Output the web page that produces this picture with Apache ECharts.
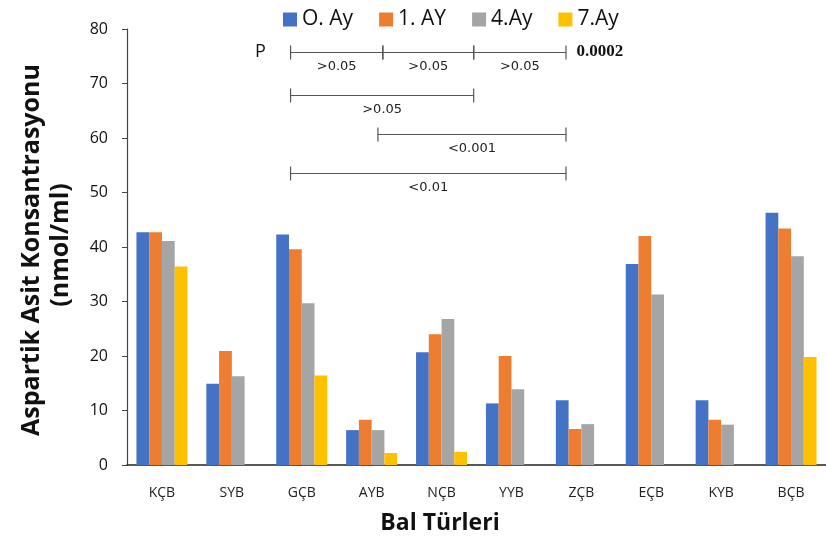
<!DOCTYPE html>
<html>
<head>
<meta charset="utf-8">
<script src="https://cdn.jsdelivr.net/npm/echarts@6/dist/echarts.min.js"></script>
<style>
  html, body { margin: 0; padding: 0; background: #fff; }
  #chart { width: 826px; height: 543px; }
</style>
</head>
<body>
<div id="chart"></div>
<script>
// Honey types on the category axis
const categories = ['KÇB', 'SYB', 'GÇB', 'AYB', 'NÇB', 'YYB', 'ZÇB', 'EÇB', 'KYB', 'BÇB'];

// Aspartic acid concentration (nmol/ml) per storage month
const seriesNames = ['O. Ay', '1. AY', '4.Ay', '7.Ay'];
const month0 = [42.7, 14.9, 42.3, 6.4, 20.7, 11.3, 11.9, 36.9, 11.9, 46.3];
const month1 = [42.7, 20.9, 39.6, 8.3, 24.0, 20.0, 6.6, 42.0, 8.3, 43.4];
const month4 = [41.1, 16.3, 29.7, 6.4, 26.8, 13.9, 7.5, 31.3, 7.4, 38.3];
const month7 = [36.4, null, 16.4, 2.2, 2.4, null, null, null, null, 19.8];

// Y axis range and tick step
const yMin = 0, yMax = 80, yStep = 10;

// Significance brackets: [start (category units), end (category units), level, p-value text]
const brackets = [
  [1.84, 3.16, 75.8, '>0.05'],
  [3.16, 4.46, 75.8, '>0.05'],
  [4.46, 5.78, 75.8, '>0.05'],
  [1.84, 4.46, 67.9, '>0.05'],
  [3.09, 5.78, 60.7, '<0.001'],
  [1.84, 5.78, 53.6, '<0.01']
];

// Free-standing annotation texts: [x (category units), level, text]
const notes = [
  [1.41, 75.8, 'P'],
  [5.93, 75.8, '0.0002']
];

const colors = ['#4472C4', '#ED7D31', '#A5A5A5', '#FFC000'];
const values = [month0, month1, month4, month7];

const chart = echarts.init(document.getElementById('chart'), null, { renderer: 'canvas' });

const barSeries = seriesNames.map((name, i) => ({
  name: name,
  type: 'bar',
  xAxisIndex: 0,
  yAxisIndex: 0,
  barWidth: 12.75,
  barGap: '0%',
  itemStyle: { color: colors[i] },
  data: values[i]
}));

const bracketSeries = {
  type: 'custom',
  xAxisIndex: 1,
  yAxisIndex: 0,
  silent: true,
  clip: false,
  encode: { x: [0, 1], y: 2 },
  data: brackets,
  renderItem: function (params, api) {
    const a = api.coord([api.value(0), api.value(2)]);
    const b = api.coord([api.value(1), api.value(2)]);
    const y = Math.round(a[1]) + 0.5;
    const stroke = { stroke: '#555', lineWidth: 1.2 };
    return {
      type: 'group',
      children: [
        { type: 'line', shape: { x1: a[0], y1: y, x2: b[0], y2: y }, style: stroke },
        { type: 'line', shape: { x1: a[0], y1: y - 7, x2: a[0], y2: y + 7 }, style: stroke },
        { type: 'line', shape: { x1: b[0], y1: y - 7, x2: b[0], y2: y + 7 }, style: stroke },
        {
          type: 'text',
          style: {
            text: brackets[params.dataIndex][3],
            x: (a[0] + b[0]) / 2,
            y: y + 14,
            align: 'center',
            verticalAlign: 'middle',
            fontFamily: 'DejaVu Sans',
            fontSize: 13,
            fill: '#222'
          }
        }
      ]
    };
  }
};

const noteSeries = {
  type: 'custom',
  xAxisIndex: 1,
  yAxisIndex: 0,
  silent: true,
  clip: false,
  encode: { x: 0, y: 1 },
  data: notes,
  renderItem: function (params, api) {
    const p = api.coord([api.value(0), api.value(1)]);
    const isP = params.dataIndex === 0;
    return {
      type: 'text',
      style: {
        text: notes[params.dataIndex][2],
        x: p[0],
        y: p[1],
        align: isP ? 'center' : 'left',
        verticalAlign: 'middle',
        fontFamily: isP ? 'Open Sans' : 'Liberation Serif',
        fontWeight: isP ? 'normal' : 'bold',
        fontSize: isP ? 18 : 17,
        fill: '#111'
      }
    };
  }
};

chart.setOption({
  animation: false,
  backgroundColor: '#ffffff',
  color: colors,
  legend: {
    data: seriesNames,
    left: 278,
    top: 4,
    itemWidth: 14,
    itemHeight: 14,
    itemGap: 26,
    icon: 'rect',
    textStyle: { fontFamily: 'Open Sans', fontSize: 21, color: '#111' }
  },
  grid: { left: 127, top: 29, width: 705, height: 436, containLabel: false },
  xAxis: [
    {
      type: 'category',
      data: categories,
      axisLine: { lineStyle: { color: '#222', width: 1.5 } },
      axisTick: { show: false },
      axisLabel: { margin: 21, fontFamily: 'Open Sans', fontSize: 14, color: '#222' }
    },
    { type: 'value', min: -0.5, max: 9.5, show: false }
  ],
  yAxis: {
    type: 'value',
    min: yMin,
    max: yMax,
    interval: yStep,
    splitLine: { show: false },
    axisLine: { show: true, onZero: false, lineStyle: { color: '#444', width: 1.2 } },
    axisTick: { show: true, length: 5, lineStyle: { color: '#444' } },
    axisLabel: { margin: 19, fontFamily: 'Open Sans', fontSize: 16, color: '#111' }
  },
  graphic: [
    {
      type: 'text',
      x: 32, y: 250, rotation: Math.PI / 2,
      style: {
        text: 'Aspartik Asit Konsantrasyonu',
        align: 'center', verticalAlign: 'middle',
        fontFamily: 'Open Sans', fontWeight: 'bold', fontSize: 25, fill: '#111'
      }
    },
    {
      type: 'text',
      x: 61, y: 245, rotation: Math.PI / 2,
      style: {
        text: '(nmol/ml)',
        align: 'center', verticalAlign: 'middle',
        fontFamily: 'Open Sans', fontWeight: 'bold', fontSize: 25, fill: '#111'
      }
    },
    {
      type: 'text',
      x: 440, y: 523,
      style: {
        text: 'Bal Türleri',
        align: 'center', verticalAlign: 'middle',
        fontFamily: 'Open Sans', fontWeight: 'bold', fontSize: 23, fill: '#111'
      }
    }
  ],
  series: barSeries.concat([bracketSeries, noteSeries])
});
</script>
</body>
</html>
